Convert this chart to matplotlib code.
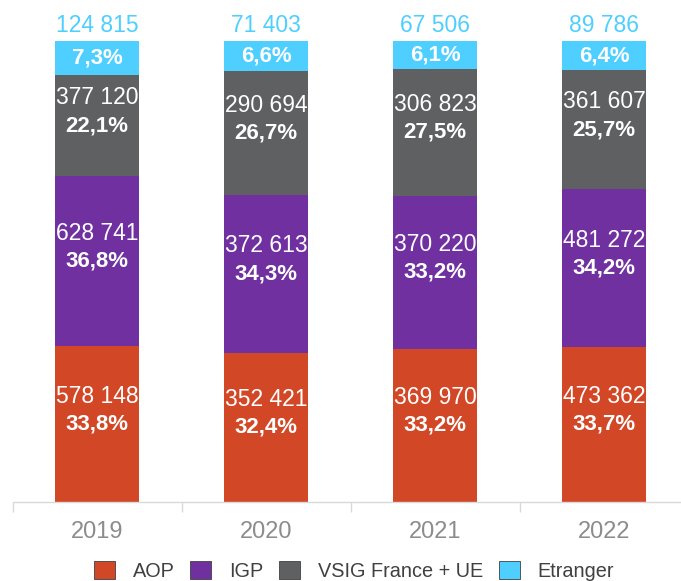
import numpy as np
import matplotlib.pyplot as plt
from matplotlib.patches import Patch
from matplotlib.ticker import FixedLocator

plt.rcParams["font.family"] = ["Liberation Sans", "DejaVu Sans"]

# ── data ──────────────────────────────────────────────────────────────────────
years = ["2019", "2020", "2021", "2022"]
series = ["AOP", "IGP", "VSIG France + UE", "Etranger"]
aop = [578148, 352421, 369970, 473362]
igp = [628741, 372613, 370220, 481272]
vsig = [377120, 290694, 306823, 361607]
etranger = [124815, 71403, 67506, 89786]
colors = ["#D24726", "#7030A0", "#5F6062", "#4FCFFF"]

values = np.array([aop, igp, vsig, etranger], dtype=float)
shares = values / values.sum(axis=0)


def fmt_int(v):
    return f"{int(v):,}".replace(",", " ")


def fmt_pct(p):
    return f"{p * 100:.1f}%".replace(".", ",")


# ── figure ────────────────────────────────────────────────────────────────────
W, H = 681, 581
fig = plt.figure(figsize=(W / 100, H / 100), dpi=100)
ax = fig.add_axes([12.6 / W, (H - 502) / H, 676 / W, 461 / H])

x = np.arange(len(years))
bottom = np.zeros(len(years))
for i, name in enumerate(series):
    ax.bar(x, shares[i], 0.5, bottom=bottom, color=colors[i], label=name,
           edgecolor="none")
    for j in range(len(years)):
        mid = bottom[j] + shares[i][j] / 2
        ax.text(x[j], mid, fmt_pct(shares[i][j]), ha="center", va="center",
                color="white", fontsize=16, fontweight="bold")
        if i < 3:
            ax.annotate(fmt_int(values[i][j]), (x[j], mid), xytext=(0, 20),
                        textcoords="offset points", ha="center", va="center",
                        color="white", fontsize=16.5)
        else:
            ax.annotate(fmt_int(values[i][j]), (x[j], 1.0), xytext=(0, 11),
                        textcoords="offset points", ha="center", va="center",
                        color="#4FCFFF", fontsize=16.5, annotation_clip=False)
    bottom += shares[i]

ax.set_xlim(-0.5, 3.5)
ax.set_ylim(0, 1)
ax.set_yticks([])
for s in ["top", "right", "left"]:
    ax.spines[s].set_visible(False)
ax.spines["bottom"].set_color("#D9D9D9")
ax.spines["bottom"].set_linewidth(1)

ax.set_xticks(x)
ax.set_xticklabels(years, fontsize=17, color="#8C8C8C")
ax.tick_params(axis="x", which="major", length=0, pad=14)
ax.xaxis.set_minor_locator(FixedLocator([-0.5, 0.5, 1.5, 2.5, 3.5]))
ax.tick_params(axis="x", which="minor", length=7, color="#D9D9D9", width=1)

handles = [Patch(facecolor=c, edgecolor="#404040", linewidth=0.6) for c in colors]
fig.legend(handles, series, loc="lower center", bbox_to_anchor=(0.52, -0.03),
           ncol=4, frameon=False, fontsize=14.3, handlelength=1.05,
           handleheight=1.05, handletextpad=0.9, columnspacing=0.8,
           labelcolor="#404040")

fig.savefig("out.png", dpi=100)
